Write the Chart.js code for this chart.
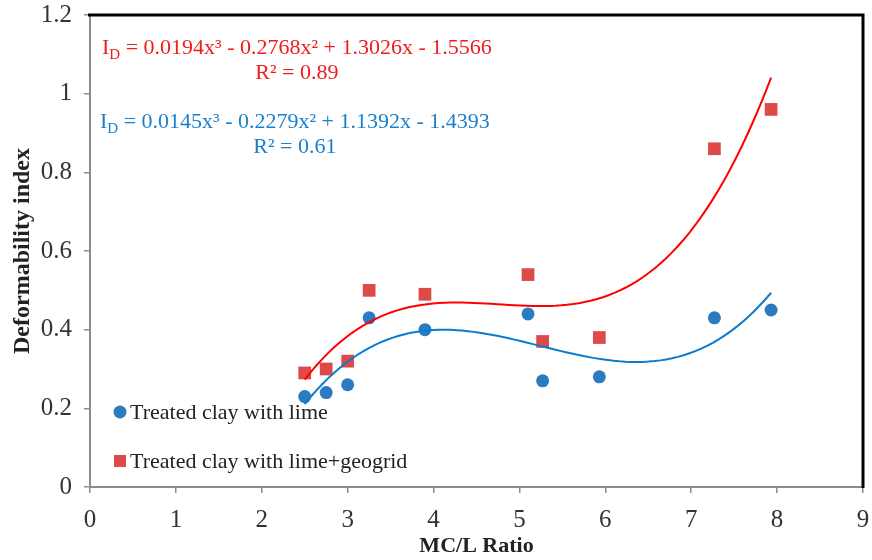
<!DOCTYPE html>
<html lang="en">
<head>
<meta charset="UTF-8">
<title>Deformability index vs MC/L ratio</title>
<script src="https://cdn.jsdelivr.net/npm/chart.js"></script>
<style>
    body { margin: 0; background: #fff; }
    .wrap { width: 872px; height: 560px; position: relative; }
</style>
</head>
<body>
<div class="wrap"><canvas id="chart"></canvas></div>
<script>
    const mcRatio = [2.5, 2.75, 3.0, 3.25, 3.9, 5.1, 5.27, 5.93, 7.27, 7.93];
    const limeIndex = [0.23, 0.24, 0.26, 0.43, 0.40, 0.44, 0.27, 0.28, 0.43, 0.45];
    const geogridIndex = [0.29, 0.30, 0.32, 0.50, 0.49, 0.54, 0.37, 0.38, 0.86, 0.96];
    const seriesNames = ['Treated clay with lime', 'Treated clay with lime+geogrid'];

    // cubic trendlines, highest power first
    const limeFit = [0.0145, -0.2279, 1.1392, -1.4393];
    const geogridFit = [0.0194, -0.2768, 1.3026, -1.5566];
    const limeR2 = 0.61;
    const geogridR2 = 0.89;

    const xTicks = [0, 1, 2, 3, 4, 5, 6, 7, 8, 9];
    const yTicks = [0, 0.2, 0.4, 0.6, 0.8, 1, 1.2];

    const FONT = '"Liberation Serif", "Times New Roman", serif';
    const limeColor = '#2a7bbf';
    const geogridColor = '#de4a4a';

    function trend(coefs, xs) {
        const lo = Math.min(...xs), hi = Math.max(...xs), pts = [];
        for (let i = 0; i <= 80; i++) {
            const x = lo + (hi - lo) * i / 80;
            pts.push({ x, y: coefs.reduce((acc, c) => acc * x + c, 0) });
        }
        return pts;
    }

    function eqText(coefs) {
        const sup = ['', '', '²', '³'];
        let s = '';
        coefs.forEach((c, i) => {
            const p = coefs.length - 1 - i;
            const term = Math.abs(c).toFixed(4) + (p > 0 ? 'x' + sup[p] : '');
            if (i === 0) s += (c < 0 ? '-' : '') + term;
            else s += (c < 0 ? ' - ' : ' + ') + term;
        });
        return s;
    }

    function drawEquation(ctx, coefs, r2, color, x, y) {
        ctx.fillStyle = color;
        ctx.textBaseline = 'alphabetic';
        ctx.textAlign = 'left';
        ctx.font = '22px ' + FONT;
        ctx.fillText('I', x, y);
        let cx = x + ctx.measureText('I').width;
        ctx.font = '15px ' + FONT;
        ctx.fillText('D', cx, y + 5);
        cx += ctx.measureText('D').width;
        ctx.font = '22px ' + FONT;
        const rest = ' = ' + eqText(coefs);
        ctx.fillText(rest, cx, y);
        const mid = (x + cx + ctx.measureText(rest).width) / 2;
        ctx.textAlign = 'center';
        ctx.fillText('R² = ' + r2.toFixed(2), mid, y + 25);
    }

    const extras = {
        id: 'extras',
        afterDraw(chart) {
            const ctx = chart.ctx;
            const { left, top, right, bottom } = chart.chartArea;
            ctx.save();
            // frame on the top and right edges
            ctx.strokeStyle = '#000';
            ctx.lineWidth = 3;
            ctx.beginPath();
            ctx.moveTo(left - 2, top);
            ctx.lineTo(right, top);
            ctx.lineTo(right, bottom + 1);
            ctx.stroke();

            drawEquation(ctx, geogridFit, geogridR2, '#f01c1c', left + 12, top + 39);
            drawEquation(ctx, limeFit, limeR2, '#1a80cd', left + 10, top + 113);

            // legend inside the plot, lower left
            const items = chart.data.datasets.filter(d => d.type === 'scatter');
            items.forEach((d, i) => {
                const cy = bottom - 75 + i * 49;
                const cx = left + 30;
                ctx.fillStyle = d.backgroundColor;
                if (d.pointStyle === 'rect') {
                    ctx.fillRect(cx - 6, cy - 6, 12, 12);
                } else {
                    ctx.beginPath();
                    ctx.arc(cx, cy, 6.5, 0, Math.PI * 2);
                    ctx.fill();
                }
                ctx.fillStyle = '#222';
                ctx.font = '22px ' + FONT;
                ctx.textAlign = 'left';
                ctx.textBaseline = 'middle';
                ctx.fillText(d.label, left + 40, cy + 1);
            });
            ctx.restore();
        }
    };

    new Chart(document.getElementById('chart'), {
        data: {
            datasets: [
                {
                    type: 'line',
                    data: trend(geogridFit, mcRatio),
                    borderColor: '#ff0000',
                    borderWidth: 2,
                    pointRadius: 0,
                    order: 0
                },
                {
                    type: 'line',
                    data: trend(limeFit, mcRatio),
                    borderColor: '#0a7bd0',
                    borderWidth: 2,
                    pointRadius: 0,
                    order: 0
                },
                {
                    type: 'scatter',
                    label: seriesNames[0],
                    data: mcRatio.map((x, i) => ({ x, y: limeIndex[i] })),
                    backgroundColor: limeColor,
                    borderWidth: 0,
                    pointStyle: 'circle',
                    pointRadius: 6.5,
                    order: 1
                },
                {
                    type: 'scatter',
                    label: seriesNames[1],
                    data: mcRatio.map((x, i) => ({ x, y: geogridIndex[i] })),
                    backgroundColor: geogridColor,
                    borderWidth: 0,
                    pointStyle: 'rect',
                    pointRadius: 9,
                    order: 1
                }
            ]
        },
        options: {
            responsive: true,
            maintainAspectRatio: false,
            animation: false,
            layout: { padding: { top: 15, right: 7, left: 0, bottom: 0 } },
            plugins: {
                legend: { display: false },
                tooltip: { enabled: false }
            },
            scales: {
                x: {
                    type: 'linear',
                    min: 0,
                    max: 9,
                    afterBuildTicks: s => { s.ticks = xTicks.map(v => ({ value: v })); },
                    afterFit: s => {
                        s.height = 73;
                        s.paddingLeft = 0;
                        s.paddingRight = 0;
                    },
                    ticks: { color: '#333', font: { family: FONT, size: 25 }, padding: 12 },
                    grid: { drawOnChartArea: false, drawTicks: true, tickLength: 6, color: '#8c8c8c', lineWidth: 1.5 },
                    border: { color: '#8c8c8c', width: 2 },
                    title: {
                        display: true,
                        text: 'MC/L Ratio',
                        color: '#222',
                        font: { family: FONT, size: 22, weight: 'bold' },
                        padding: { top: 0, bottom: 0 }
                    }
                },
                y: {
                    type: 'linear',
                    min: 0,
                    max: 1.2,
                    afterBuildTicks: s => { s.ticks = yTicks.map(v => ({ value: v })); },
                    afterFit: s => {
                        s.width = 90;
                        s.paddingTop = 0;
                        s.paddingBottom = 0;
                    },
                    ticks: {
                        color: '#333',
                        font: { family: FONT, size: 25 },
                        padding: 12,
                        callback: v => String(+v.toFixed(1))
                    },
                    grid: { drawOnChartArea: false, drawTicks: true, tickLength: 6, color: '#8c8c8c', lineWidth: 1.5 },
                    border: { color: '#8c8c8c', width: 2 },
                    title: {
                        display: true,
                        text: 'Deformability index',
                        color: '#222',
                        font: { family: FONT, size: 24, weight: 'bold' },
                        padding: { top: 8, bottom: 0 }
                    }
                }
            }
        },
        plugins: [extras]
    });
</script>
</body>
</html>
